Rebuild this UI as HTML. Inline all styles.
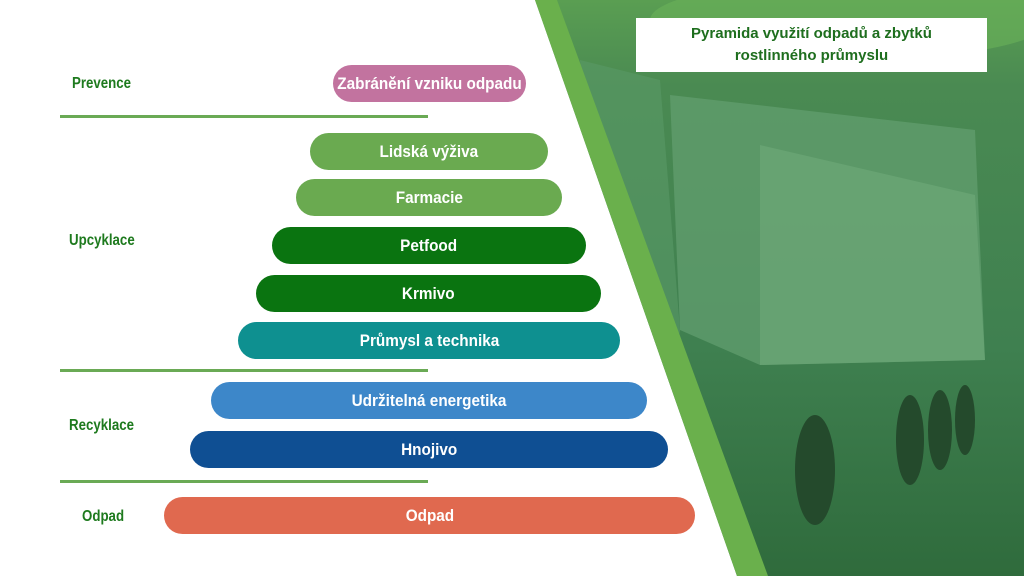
<!DOCTYPE html>
<html><head><meta charset="utf-8"><style>
body{margin:0;width:1024px;height:576px;overflow:hidden;position:relative;background:#fff;font-family:"Liberation Sans",sans-serif;}
.bg{position:absolute;left:0;top:0;width:1024px;height:576px;}
.pill{position:absolute;height:37px;border-radius:19px;color:#fff;font-weight:bold;font-size:17px;display:flex;align-items:center;justify-content:center;}
.pill span{display:inline-block;transform:scaleX(0.9);white-space:nowrap;}
.lab span{display:inline-block;transform:scaleX(0.83);white-space:nowrap;transform-origin:left;}
.lab{position:absolute;color:#1e7a1e;font-weight:bold;font-size:16px;}
.line{position:absolute;left:60px;width:368px;height:3px;background:#6aaa55;}
.title{position:absolute;left:636px;top:18px;width:351px;height:54px;background:#fff;color:#1e6e1e;font-weight:bold;font-size:15px;text-align:center;line-height:22px;padding-top:5px;box-sizing:border-box;}
</style></head><body>
<svg class="bg" viewBox="0 0 1024 576">
<defs>
<linearGradient id="g" x1="0" y1="0" x2="0" y2="1">
<stop offset="0" stop-color="#5a9e52"/><stop offset="0.15" stop-color="#4a8a52"/><stop offset="0.6" stop-color="#3f8050"/><stop offset="1" stop-color="#2f6b3c"/></linearGradient>
<clipPath id="c"><polygon points="535,0 1024,0 1024,576 737,576"/></clipPath>
</defs>
<g clip-path="url(#c)">
<rect width="1024" height="576" fill="url(#g)"/>
<ellipse cx="850" cy="20" rx="200" ry="40" fill="#6ab25a" opacity="0.6"/>
<polygon points="670,95 975,130 985,360 760,365 680,330" fill="#64a070" opacity="0.7"/>
<polygon points="760,145 975,195 985,360 760,365" fill="#70aa7a" opacity="0.6"/>
<polygon points="580,60 660,80 680,330 660,470 610,400" fill="#5a9a68" opacity="0.6"/>
<ellipse cx="815" cy="470" rx="20" ry="55" fill="#244a2c"/>
<ellipse cx="910" cy="440" rx="14" ry="45" fill="#244a2c"/>
<ellipse cx="940" cy="430" rx="12" ry="40" fill="#244a2c"/>
<ellipse cx="965" cy="420" rx="10" ry="35" fill="#244a2c"/>
</g>
<polygon points="535,0 557,0 768,576 737,576" fill="#6ab04c"/>
</svg>
<div class="title">Pyramida využití odpadů a zbytků<br>rostlinného průmyslu</div>
<div class="lab" style="left:72px;top:75px"><span>Prevence</span></div>
<div class="lab" style="left:69px;top:232px"><span>Upcyklace</span></div>
<div class="lab" style="left:69px;top:417px"><span>Recyklace</span></div>
<div class="lab" style="left:82px;top:508px"><span>Odpad</span></div>
<div class="line" style="top:115px"></div>
<div class="line" style="top:369px"></div>
<div class="line" style="top:480px"></div>
<div class="pill" style="left:333px;top:65px;width:193px;background:#c2739f"><span>Zabránění vzniku odpadu</span></div>
<div class="pill" style="left:310px;top:133px;width:238px;background:#6aaa50"><span>Lidská výživa</span></div>
<div class="pill" style="left:296px;top:179px;width:266px;background:#6aaa50"><span>Farmacie</span></div>
<div class="pill" style="left:272px;top:227px;width:314px;background:#0a7410"><span>Petfood</span></div>
<div class="pill" style="left:256px;top:275px;width:345px;background:#0a7410"><span>Krmivo</span></div>
<div class="pill" style="left:238px;top:322px;width:382px;background:#0e9090"><span>Průmysl a technika</span></div>
<div class="pill" style="left:211px;top:382px;width:436px;background:#3d87c9"><span>Udržitelná energetika</span></div>
<div class="pill" style="left:190px;top:431px;width:478px;background:#0f4f93"><span>Hnojivo</span></div>
<div class="pill" style="left:164px;top:497px;width:531px;background:#e0694f"><span>Odpad</span></div>
</body></html>
